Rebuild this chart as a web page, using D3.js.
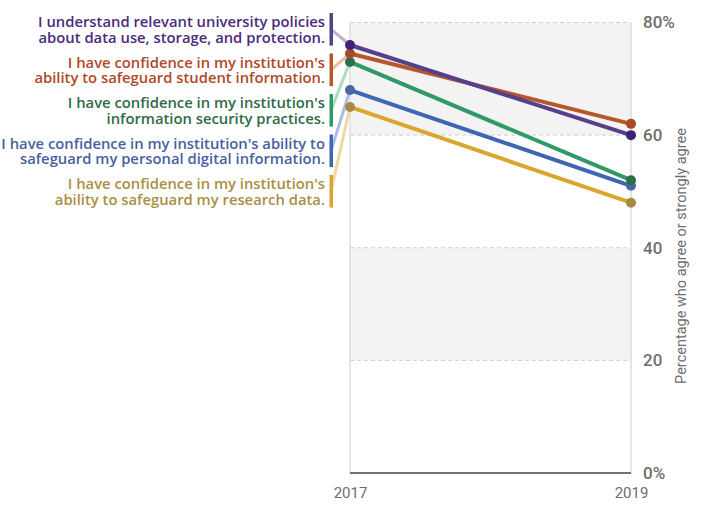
<!DOCTYPE html>
<html>
<head>
<meta charset="utf-8">
<script src="https://cdn.jsdelivr.net/npm/d3@7"></script>
<style>
  body { margin: 0; background: #fff; }
  svg text { font-family: Roboto, "Open Sans", sans-serif; }
</style>
</head>
<body>
<svg id="chart" width="706" height="510"></svg>
<script>
// survey statements, top to bottom as shown on the left
var statements = [
	["I understand relevant university policies", "about data use, storage, and protection."],
	["I have confidence in my institution's", "ability to safeguard student information."],
	["I have confidence in my institution's", "information security practices."],
	["I have confidence in my institution's ability to", "safeguard my personal digital information."],
	["I have confidence in my institution's", "ability to safeguard my research data."]
];
var years = ["2017", "2019"];
var values2017 = [76, 74.5, 73, 68, 65];
var values2019 = [60, 62, 52, 51, 48];
var yTicks = [0, 20, 40, 60, 80];

// colours per statement: line, dot, text, connector
var lineColors = ["#56408a", "#b5562b", "#2f9a68", "#3e66b2", "#dca52b"];
var dotColors  = ["#3e2178", "#a84a2a", "#2f6e48", "#4c66a2", "#a98b48"];
var textColors = ["#4a2b7c", "#b0482a", "#2f6b46", "#4a5fa0", "#a98f45"];
var linkColors = ["#bdb3cc", "#e9bba4", "#acdcc2", "#aabde2", "#eed9a2"];

var svg = d3.select("#chart");

var x = d3.scalePoint().domain(years).range([350, 631]);
var y = d3.scaleLinear().domain([0, 80]).range([473, 22.5]);

var plot = svg.append("g");

// grey bands 20-40 and 60-80
[[20, 40], [60, 80]].forEach(function(b){
	plot.append("rect")
		.attr("x", x("2017")).attr("width", x("2019") - x("2017"))
		.attr("y", y(b[1])).attr("height", y(b[0]) - y(b[1]))
		.attr("fill", "#f3f3f3");
});

// dashed gridlines
plot.selectAll(".grid").data(yTicks.filter(function(d){ return d > 0; }))
	.enter().append("line")
	.attr("x1", x("2017")).attr("x2", x("2019"))
	.attr("y1", function(d){ return y(d); }).attr("y2", function(d){ return y(d); })
	.attr("stroke", "#cfcfcf").attr("stroke-dasharray", "4,3");

// year verticals
years.forEach(function(yr){
	plot.append("line")
		.attr("x1", x(yr)).attr("x2", x(yr))
		.attr("y1", y(80)).attr("y2", y(0))
		.attr("stroke", "#dedede").attr("stroke-width", 1.5);
});

// base line
plot.append("line")
	.attr("x1", x("2017")).attr("x2", x("2019"))
	.attr("y1", y(0)).attr("y2", y(0))
	.attr("stroke", "#444").attr("stroke-width", 1.5);

// right axis
var yAxis = d3.axisRight(y).tickValues(yTicks).tickSize(0).tickPadding(12)
	.tickFormat(function(d){ return (d === 0 || d === 80) ? d + "%" : d; });
var ay = svg.append("g").attr("transform", "translate(" + x("2019") + ",0)").call(yAxis);
ay.select(".domain").remove();
ay.selectAll("text").attr("fill", "#6e6e6e").style("font-size", "17px").attr("font-weight", 500);

// bottom axis
var xAxis = d3.axisBottom(x).tickSize(0).tickPadding(14);
var ax = svg.append("g").attr("transform", "translate(0," + y(0) + ")").call(xAxis);
ax.select(".domain").remove();
ax.selectAll("text").attr("fill", "#6e6e6e").style("font-size", "15px");

svg.append("text")
	.attr("transform", "translate(686,256) rotate(-90)")
	.attr("text-anchor", "middle")
	.attr("fill", "#6e6e6e")
	.style("font-size", "14.5px")
	.text("Percentage who agree or strongly agree");

// labels on the left
var barX = 331;
statements.forEach(function(lines, i){
	var b1 = 27 + 40.5 * i, b2 = b1 + 15.6;
	var top = b1 - 14, bottom = b2 + 3, mid = (top + bottom) / 2;

	svg.append("line")
		.attr("x1", barX).attr("y1", mid)
		.attr("x2", x("2017")).attr("y2", y(values2017[i]))
		.attr("stroke", linkColors[i]).attr("stroke-width", 3);

	svg.append("rect")
		.attr("x", barX - 1.5).attr("width", 3.5)
		.attr("y", top).attr("height", bottom - top)
		.attr("fill", lineColors[i]);

	var t = svg.append("text")
		.attr("text-anchor", "end")
		.attr("fill", textColors[i])
		.attr("font-weight", 600)
		.style("font-family", "'Open Sans', sans-serif")
		.style("font-size", "14.8px");
	t.append("tspan").attr("x", 325).attr("y", b1).text(lines[0]);
	t.append("tspan").attr("x", 325).attr("y", b2).text(lines[1]);
});

// slope lines and dots (drawn bottom-up so top series sits above)
var order = [4, 3, 2, 1, 0];
order.forEach(function(i){
	var pts = [[x("2017"), y(values2017[i])], [x("2019"), y(values2019[i])]];
	svg.append("path")
		.attr("d", d3.line()(pts))
		.attr("stroke", lineColors[i]).attr("stroke-width", 4)
		.attr("fill", "none");
	svg.selectAll(null).data(pts).enter().append("circle")
		.attr("cx", function(d){ return d[0]; })
		.attr("cy", function(d){ return d[1]; })
		.attr("r", 5)
		.attr("fill", dotColors[i]);
});
</script>
</body>
</html>
